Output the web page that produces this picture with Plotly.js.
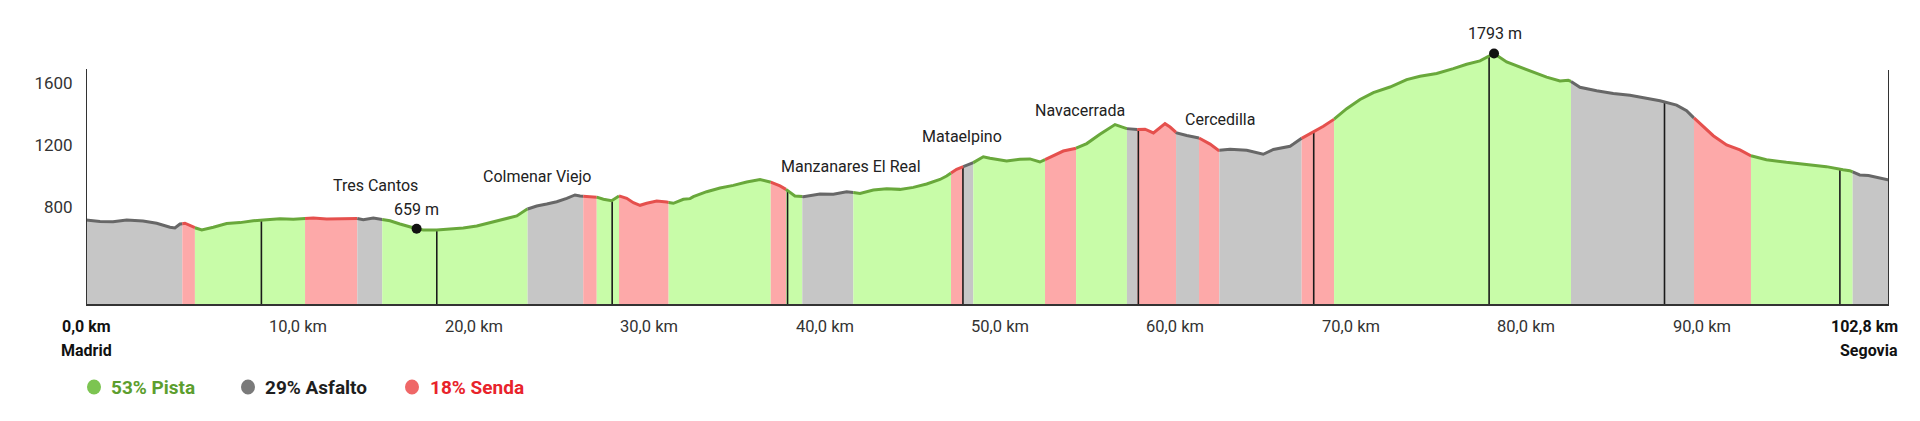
<!DOCTYPE html>
<html><head><meta charset="utf-8">
<script src="https://cdn.plot.ly/plotly-3.0.1.min.js"></script>
<style>html,body{margin:0;padding:0;background:#fff;}#chart{width:1920px;height:421px;}</style>
</head><body><div id="chart"></div>
<script>
// ---- DATA ----
const distKm = [0,0.80,1.54,2.32,3.25,4.03,4.79,5.07,5.36,5.64,6.21,6.60,7.26,8.02,8.78,9.54,10.30,11.06,11.82,12.49,12.96,13.72,14.48,15.43,15.81,16.38,16.86,17.33,17.90,18.47,18.85,19.23,20.00,20.75,21.51,22.28,23.03,23.99,24.56,25.13,25.70,26.27,26.84,27.41,27.88,28.17,28.55,29.02,29.50,29.97,30.35,30.83,31.21,31.59,31.97,32.54,33.11,33.49,34.06,34.44,34.63,35.39,36.15,36.91,37.67,38.43,39.00,39.57,39.91,40.42,40.90,41.85,42.61,43.37,44.13,44.89,45.65,46.41,47.17,47.93,48.69,49.07,49.64,50.02,50.59,51.16,51.54,52.49,53.25,53.82,54.39,54.96,55.72,56.39,57.06,57.81,58.67,59.34,59.91,60.38,60.86,61.52,61.81,62.19,62.76,63.42,64.09,64.56,65.23,66.18,67.12,67.70,68.65,68.84,69.31,69.98,70.55,71.12,71.88,72.64,73.40,74.35,75.30,76.06,77.01,77.96,78.72,79.48,80.28,81.00,81.76,82.52,83.28,84.04,84.51,84.67,85.18,86.13,87.08,88.03,88.98,89.74,90.69,91.26,91.64,92.21,92.78,93.54,94.30,94.90,95.81,96.95,98.09,99.23,100.18,100.56,101.13,101.63,102.8];
const elevM = [716,707,705,716,709,695,669,664,690,695,666,651,669,693,699,711,718,724,720,725,729,722,724,726,718,729,720,711,690,669,659,652,652,658,664,677,698,722,742,785,806,819,834,856,878,871,867,867,850,841,873,856,828,811,824,839,832,824,850,854,867,899,923,940,962,978,962,936,914,871,867,884,882,899,888,910,918,914,927,949,978,1000,1044,1061,1087,1125,1115,1097,1109,1111,1091,1120,1162,1178,1210,1270,1333,1307,1301,1303,1279,1339,1317,1279,1262,1249,1207,1167,1174,1167,1141,1172,1193,1207,1244,1287,1322,1365,1436,1495,1540,1576,1624,1646,1663,1695,1723,1745,1793,1738,1705,1673,1640,1615,1619,1612,1574,1552,1534,1522,1501,1487,1459,1423,1380,1321,1261,1201,1169,1132,1106,1089,1076,1061,1041,1035,1007,1003,975];

const surfaceStart = [0,5.49,6.21,12.49,15.47,16.89,25.18,28.35,29.12,30.39,33.22,39.04,39.91,40.84,43.75,49.32,50.02,50.59,54.68,56.45,59.35,59.94,62.15,63.46,64.62,69.31,71.16,84.67,91.68,94.93,100.73];
const surfaceEnd   = [5.49,6.21,12.49,15.47,16.89,25.18,28.35,29.12,30.39,33.22,39.04,39.91,40.84,43.75,49.32,50.02,50.59,54.68,56.45,59.35,59.94,62.15,63.46,64.62,69.31,71.16,84.67,91.68,94.93,100.73,102.8];
const surfaceType  = ['Asfalto','Senda','Pista','Senda','Asfalto','Pista','Asfalto','Senda','Pista','Senda','Pista','Senda','Pista','Asfalto','Pista','Senda','Asfalto','Pista','Senda','Pista','Asfalto','Senda','Asfalto','Senda','Asfalto','Senda','Pista','Asfalto','Senda','Pista','Asfalto'];

const surfaceNames = ['Pista','Asfalto','Senda'];
const surfacePct = [53,29,18];

const townNames = ['Tres Cantos','Colmenar Viejo','Manzanares El Real','Mataelpino','Navacerrada','Cercedilla'];
const townKm = [16.5,25.73,43.59,49.93,56.67,64.68];
const townLabelElev = [936,1000,1059,1259,1427,1369];

const markerKm = [18.85,80.28];
const markerElev = [659,1793];

const kmTicks = [10,20,30,40,50,60,70,80,90,100];
const yTicks = [800,1200,1600];
const totalKm = 102.8;
const startName = 'Madrid';
const endName = 'Segovia';

// ---- STYLE ----
const FONT = 'Roboto, "Noto Sans", sans-serif';
const fillCol = {Pista:'#c8fca8', Asfalto:'#c6c6c6', Senda:'#fda9a9'};
const lineCol = {Pista:'#69a83b', Asfalto:'#676767', Senda:'#e5504d'};
const legendDot = {Pista:'#7cc451', Asfalto:'#7a7a7a', Senda:'#ef6767'};
const legendTxt = {Pista:'#5c9e2e', Asfalto:'#1e1e1e', Senda:'#e8232b'};
const yRange = [172.7, 1944.7];

function interp(k){
  for(let i=1;i<distKm.length;i++){
    if(k<=distKm[i]){
      const t=(k-distKm[i-1])/(distKm[i]-distKm[i-1]);
      return elevM[i-1]+t*(elevM[i]-elevM[i-1]);
    }
  }
  return elevM[elevM.length-1];
}

const traces = [];
const segPts = surfaceStart.map((a,i)=>{
  const b = surfaceEnd[i];
  const xs=[a], ys=[interp(a)];
  distKm.forEach((d,j)=>{ if(d>a && d<b){ xs.push(d); ys.push(elevM[j]); } });
  xs.push(b); ys.push(interp(b));
  return {xs,ys,type:surfaceType[i]};
});
segPts.forEach(s=>{
  traces.push({type:'scatter',mode:'lines',x:s.xs,y:s.ys,fill:'tozeroy',fillcolor:fillCol[s.type],
    line:{width:0,color:fillCol[s.type]},hoverinfo:'skip',showlegend:false});
});
kmTicks.forEach(k=>{
  traces.push({type:'scatter',mode:'lines',x:[k,k],y:[yRange[0],interp(k)],line:{color:'#1a1a1a',width:1.6},hoverinfo:'skip',showlegend:false});
});
segPts.forEach(s=>{
  traces.push({type:'scatter',mode:'lines',x:s.xs,y:s.ys,line:{color:lineCol[s.type],width:3},hoverinfo:'skip',showlegend:false});
});
traces.push({type:'scatter',mode:'markers',x:markerKm,y:markerElev,marker:{color:'#111',size:10},cliponaxis:false,hoverinfo:'skip',showlegend:false});

const W=1920, H=421, mL=86, mR=31, mT=30, mB=117;
const pw=W-mL-mR, ph=H-mT-mB;
const px2paperX = p => (p-mL)/pw;
const px2paperY = p => (H-mB-p)/ph;

const ann = [];
townNames.forEach((n,i)=>ann.push({xref:'x',yref:'y',x:townKm[i],y:townLabelElev[i],text:n,showarrow:false,xanchor:'center',yanchor:'middle',font:{family:FONT,size:16,color:'#222'}}));
ann.push({xref:'x',yref:'y',x:markerKm[0],y:787,text:markerElev[0]+' m',showarrow:false,xanchor:'center',yanchor:'middle',font:{family:FONT,size:16,color:'#222'}});
ann.push({xref:'x',yref:'y',x:markerKm[1]+0.08,y:1925,text:markerElev[1]+' m',showarrow:false,xanchor:'center',yanchor:'middle',font:{family:FONT,size:16,color:'#222'}});
const kmLabel = k => k.toFixed(1).replace('.',',')+' km';
kmTicks.slice(0,-1).forEach(k=>ann.push({xref:'x',yref:'paper',x:k,y:px2paperY(326),text:kmLabel(k),showarrow:false,xanchor:'left',xshift:6,yanchor:'middle',font:{family:FONT,size:16.5,color:'#333'}}));
ann.push({xref:'x',yref:'paper',x:0,y:px2paperY(326),text:'<b>'+kmLabel(0)+'</b>',showarrow:false,xanchor:'center',yanchor:'middle',font:{family:FONT,size:16,color:'#111'}});
ann.push({xref:'x',yref:'paper',x:0,y:px2paperY(350),text:'<b>'+startName+'</b>',showarrow:false,xanchor:'center',yanchor:'middle',font:{family:FONT,size:16,color:'#111'}});
ann.push({xref:'x',yref:'paper',x:totalKm,y:px2paperY(326),text:'<b>'+kmLabel(totalKm)+'</b>',showarrow:false,xanchor:'right',xshift:11,yanchor:'middle',font:{family:FONT,size:16,color:'#111'}});
ann.push({xref:'x',yref:'paper',x:totalKm,y:px2paperY(350),text:'<b>'+endName+'</b>',showarrow:false,xanchor:'right',xshift:11,yanchor:'middle',font:{family:FONT,size:16,color:'#111'}});

const legDotX=[94,248,412], legTxtX=[109,263,428], legY=387;
const shapes=[
  {type:'line',xref:'x',yref:'paper',x0:0,x1:0,y0:0,y1:px2paperY(69),line:{color:'#333',width:2},layer:'above'},
  {type:'line',xref:'x',yref:'paper',x0:totalKm,x1:totalKm,y0:0,y1:px2paperY(70),line:{color:'#333',width:2},layer:'above'}
];
surfaceNames.forEach((n,i)=>{
  shapes.push({type:'circle',xref:'paper',yref:'paper',xsizemode:'pixel',ysizemode:'pixel',xanchor:px2paperX(legDotX[i]),yanchor:px2paperY(legY),x0:-7,x1:7,y0:-7.5,y1:7.5,fillcolor:legendDot[n],line:{width:0}});
  ann.push({xref:'paper',yref:'paper',x:px2paperX(legTxtX[i]),y:px2paperY(legY),text:'<b>'+surfacePct[i]+'% '+n+'</b>',showarrow:false,xanchor:'left',yanchor:'middle',font:{family:FONT,size:19,color:legendTxt[n]}});
});

const layout={
  width:W,height:H,margin:{l:mL,r:mR,t:mT,b:mB,pad:0},
  paper_bgcolor:'#fff',plot_bgcolor:'#fff',showlegend:false,
  xaxis:{range:[0,totalKm],showgrid:false,zeroline:false,showticklabels:false,ticks:'',showline:true,linecolor:'#333',linewidth:2,fixedrange:true},
  yaxis:{range:yRange,showgrid:false,zeroline:false,tickvals:yTicks,ticktext:yTicks.map(String),ticks:'outside',ticklen:9,tickcolor:'rgba(0,0,0,0)',showline:false,tickfont:{family:FONT,size:17,color:'#333'},fixedrange:true},
  annotations:ann,shapes:shapes,
  font:{family:FONT}
};
Plotly.newPlot('chart',traces,layout,{staticPlot:true,displayModeBar:false});
</script></body></html>
